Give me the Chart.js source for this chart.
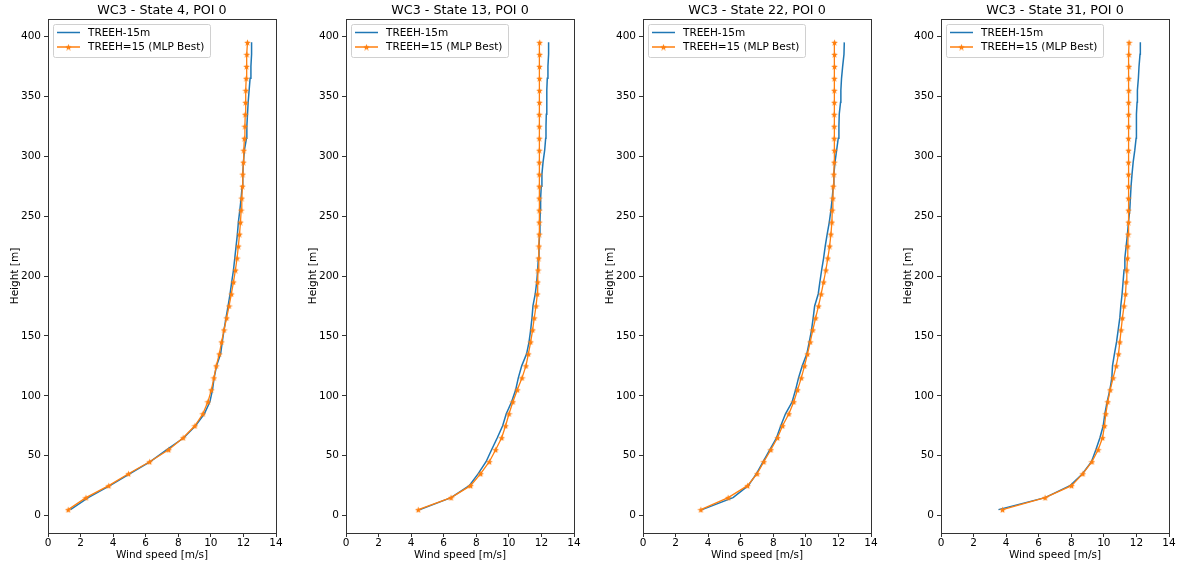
<!DOCTYPE html>
<html>
<head>
<meta charset="utf-8">
<style>
  body { margin: 0; background: #fff; width: 1183px; height: 568px; position: relative; overflow: hidden; }
  .panel { position: absolute; top: 0; }
</style>
</head>
<body>
<script src="https://cdn.jsdelivr.net/npm/chart.js"></script>
<script>
// subplot titles
const titles = ['WC3 - State 4, POI 0', 'WC3 - State 13, POI 0', 'WC3 - State 22, POI 0', 'WC3 - State 31, POI 0'];
const seriesNames = ['TREEH-15m', 'TREEH=15 (MLP Best)'];

// heights [m], shared by both series
const heights = [5, 15, 25, 35, 45, 55, 65, 75, 85, 95, 105, 115, 125, 135, 145, 155, 165, 175, 185, 195,
                 205, 215, 225, 235, 245, 255, 265, 275, 285, 295, 305, 315, 325, 335, 345, 355, 365, 375, 385, 395];

// wind speed [m/s] - TREEH-15m (blue)
const treeh4  = [1.38, 2.47, 3.80, 5.04, 6.28, 7.30, 8.34, 9.06, 9.60, 9.94, 10.10, 10.20, 10.35, 10.60, 10.70, 10.81, 10.93, 11.06, 11.18, 11.28,
                 11.39, 11.47, 11.55, 11.63, 11.69, 11.78, 11.86, 11.92, 11.96, 12.00, 12.06, 12.19, 12.21, 12.25, 12.29, 12.35, 12.41, 12.46, 12.50, 12.50];
const treeh13 = [4.54, 6.45, 7.57, 8.12, 8.60, 8.94, 9.29, 9.62, 9.84, 10.17, 10.42, 10.58, 10.79, 11.09, 11.24, 11.34, 11.42, 11.48, 11.62, 11.71,
                 11.77, 11.81, 11.85, 11.89, 11.91, 11.93, 11.95, 11.99, 12.03, 12.10, 12.20, 12.26, 12.28, 12.30, 12.32, 12.34, 12.36, 12.40, 12.44, 12.44];
const treeh22 = [3.63, 5.53, 6.46, 6.97, 7.38, 7.79, 8.20, 8.46, 8.75, 9.16, 9.37, 9.55, 9.78, 10.06, 10.21, 10.35, 10.45, 10.54, 10.76, 10.86,
                 10.97, 11.09, 11.19, 11.31, 11.44, 11.54, 11.62, 11.68, 11.72, 11.79, 11.89, 11.99, 12.03, 12.05, 12.13, 12.15, 12.19, 12.26, 12.34, 12.36];
const treeh31 = [3.53, 6.39, 7.92, 8.69, 9.24, 9.51, 9.76, 9.96, 10.06, 10.20, 10.37, 10.49, 10.53, 10.65, 10.78, 10.88, 10.98, 11.04, 11.12, 11.18,
                 11.24, 11.29, 11.37, 11.45, 11.51, 11.59, 11.63, 11.67, 11.73, 11.80, 11.90, 11.98, 12.00, 12.00, 12.04, 12.06, 12.12, 12.16, 12.22, 12.24];

// wind speed [m/s] - TREEH=15 (MLP Best) (orange)
const mlp4  = [1.24, 2.33, 3.73, 4.94, 6.24, 7.41, 8.30, 9.02, 9.51, 9.82, 10.03, 10.19, 10.33, 10.52, 10.66, 10.81, 10.97, 11.12, 11.26, 11.39,
               11.51, 11.61, 11.69, 11.76, 11.82, 11.86, 11.90, 11.94, 11.96, 12.00, 12.02, 12.06, 12.09, 12.11, 12.13, 12.15, 12.17, 12.19, 12.21, 12.25];
const mlp13 = [4.44, 6.45, 7.65, 8.27, 8.80, 9.19, 9.56, 9.80, 10.01, 10.25, 10.52, 10.81, 11.05, 11.20, 11.34, 11.46, 11.56, 11.67, 11.75, 11.77,
               11.79, 11.83, 11.85, 11.87, 11.87, 11.87, 11.87, 11.87, 11.87, 11.87, 11.87, 11.87, 11.87, 11.87, 11.88, 11.88, 11.88, 11.88, 11.89, 11.89];
const mlp22 = [3.55, 5.23, 6.42, 7.01, 7.42, 7.85, 8.26, 8.57, 8.96, 9.26, 9.49, 9.72, 9.92, 10.10, 10.27, 10.43, 10.60, 10.78, 10.94, 11.09,
               11.23, 11.35, 11.46, 11.54, 11.60, 11.62, 11.66, 11.68, 11.72, 11.74, 11.76, 11.74, 11.74, 11.74, 11.75, 11.75, 11.75, 11.76, 11.76, 11.76];
const mlp31 = [3.78, 6.39, 8.02, 8.71, 9.27, 9.65, 9.92, 10.04, 10.12, 10.24, 10.39, 10.57, 10.76, 10.90, 10.98, 11.06, 11.14, 11.24, 11.33, 11.37,
               11.41, 11.45, 11.47, 11.49, 11.51, 11.51, 11.51, 11.51, 11.51, 11.51, 11.51, 11.51, 11.52, 11.52, 11.52, 11.53, 11.53, 11.54, 11.54, 11.55];

// tick labels
const xTicks = [0, 2, 4, 6, 8, 10, 12, 14];
const yTicks = [0, 50, 100, 150, 200, 250, 300, 350, 400];

const blueSets = [treeh4, treeh13, treeh22, treeh31];
const orangeSets = [mlp4, mlp13, mlp22, mlp31];

const BLUE = '#1f77b4', ORANGE = '#ff7f0e';
const FONT = "'DejaVu Sans', sans-serif";
const plotLefts = [48, 346, 643, 941];
const yAxisW = 48;

// filled 5-point star like matplotlib '*'
function makeStar(size, color) {
    const c = document.createElement('canvas');
    c.width = c.height = size;
    const g = c.getContext('2d');
    g.fillStyle = color;
    g.beginPath();
    for (let i = 0; i < 10; i++) {
        const r = i % 2 ? size * 0.21 : size * 0.5;
        const a = -Math.PI / 2 + i * Math.PI / 5;
        const px = size / 2 + r * Math.cos(a), py = size / 2 + 0.5 + r * Math.sin(a);
        if (i === 0) g.moveTo(px, py); else g.lineTo(px, py);
    }
    g.closePath();
    g.fill();
    return c;
}
const star = makeStar(7, ORANGE);

// frame, title and in-axes legend
const decor = {
    id: 'decor',
    afterDraw(chart, args, opts) {
        const ctx = chart.ctx, a = chart.chartArea;
        ctx.save();
        ctx.strokeStyle = '#333';
        ctx.lineWidth = 1;
        ctx.strokeRect(Math.round(a.left) + 0.5, Math.round(a.top) + 0.5, Math.round(a.right - a.left), Math.round(a.bottom - a.top));

        ctx.fillStyle = '#000';
        ctx.font = '12.7px ' + FONT;
        ctx.textAlign = 'center';
        ctx.textBaseline = 'middle';
        ctx.fillText(opts.title, (a.left + a.right) / 2, 11);

        const lx = a.left + 5, ly = a.top + 5, lw = 157, lh = 33;
        ctx.beginPath();
        ctx.roundRect(lx + 0.5, ly + 0.5, lw, lh, 2);
        ctx.fillStyle = 'rgba(255,255,255,0.8)';
        ctx.fill();
        ctx.strokeStyle = '#d0d0d0';
        ctx.stroke();

        ctx.font = '10.5px ' + FONT;
        ctx.textAlign = 'left';
        const rows = [ly + 8.5, ly + 23];
        [BLUE, ORANGE].forEach((col, i) => {
            ctx.strokeStyle = col;
            ctx.lineWidth = 1.5;
            ctx.beginPath();
            ctx.moveTo(lx + 4, rows[i]);
            ctx.lineTo(lx + 27, rows[i]);
            ctx.stroke();
            if (i === 1) ctx.drawImage(star, lx + 15.5 - star.width / 2, rows[i] - star.height / 2);
            ctx.fillStyle = '#000';
            ctx.fillText(seriesNames[i], lx + 35, rows[i] + 0.5);
        });
        ctx.restore();
    }
};

for (let p = 0; p < 4; p++) {
    const div = document.createElement('div');
    div.className = 'panel';
    div.style.left = (plotLefts[p] - yAxisW) + 'px';
    const canvas = document.createElement('canvas');
    canvas.width = 290;
    canvas.height = 568;
    div.appendChild(canvas);
    document.body.appendChild(div);

    new Chart(canvas.getContext('2d'), {
        type: 'scatter',
        data: {
            datasets: [{
                label: seriesNames[0],
                data: heights.map((h, i) => ({ x: blueSets[p][i], y: h })),
                showLine: true,
                borderColor: BLUE,
                borderWidth: 1.5,
                pointRadius: 0,
                order: 1
            }, {
                label: seriesNames[1],
                data: heights.map((h, i) => ({ x: orangeSets[p][i], y: h })),
                showLine: true,
                borderColor: ORANGE,
                borderWidth: 1.3,
                pointStyle: star,
                pointRadius: 3,
                order: 0
            }]
        },
        options: {
            responsive: false,
            animation: false,
            events: [],
            layout: { padding: { top: 19, right: 14, left: 0, bottom: 0 } },
            plugins: {
                legend: { display: false },
                tooltip: { enabled: false },
                decor: { title: titles[p] }
            },
            scales: {
                x: {
                    type: 'linear',
                    min: 0, max: 14,
                    afterBuildTicks: s => { s.ticks = xTicks.map(v => ({ value: v })); },
                    afterFit: s => { s.height = 35; },
                    grid: { drawOnChartArea: false, drawTicks: true, tickLength: 4, tickColor: '#333' },
                    border: { display: false },
                    ticks: { color: '#000', font: { family: FONT, size: 10.5 }, padding: 0, maxRotation: 0 },
                    title: { display: true, text: 'Wind speed [m/s]', color: '#000', font: { family: FONT, size: 10.5 }, padding: { top: 0, bottom: 6 } }
                },
                y: {
                    type: 'linear',
                    min: -14.5, max: 414.5,
                    afterBuildTicks: s => { s.ticks = yTicks.map(v => ({ value: v })); },
                    afterFit: s => { s.width = yAxisW; },
                    grid: { drawOnChartArea: false, drawTicks: true, tickLength: 4, tickColor: '#333' },
                    border: { display: false },
                    ticks: { color: '#000', font: { family: FONT, size: 10.5 }, padding: 3 },
                    title: { display: true, text: 'Height [m]', color: '#000', font: { family: FONT, size: 10.5 }, padding: { top: 9, bottom: 0 } }
                }
            }
        },
        plugins: [decor]
    });
}
</script>
</body>
</html>
